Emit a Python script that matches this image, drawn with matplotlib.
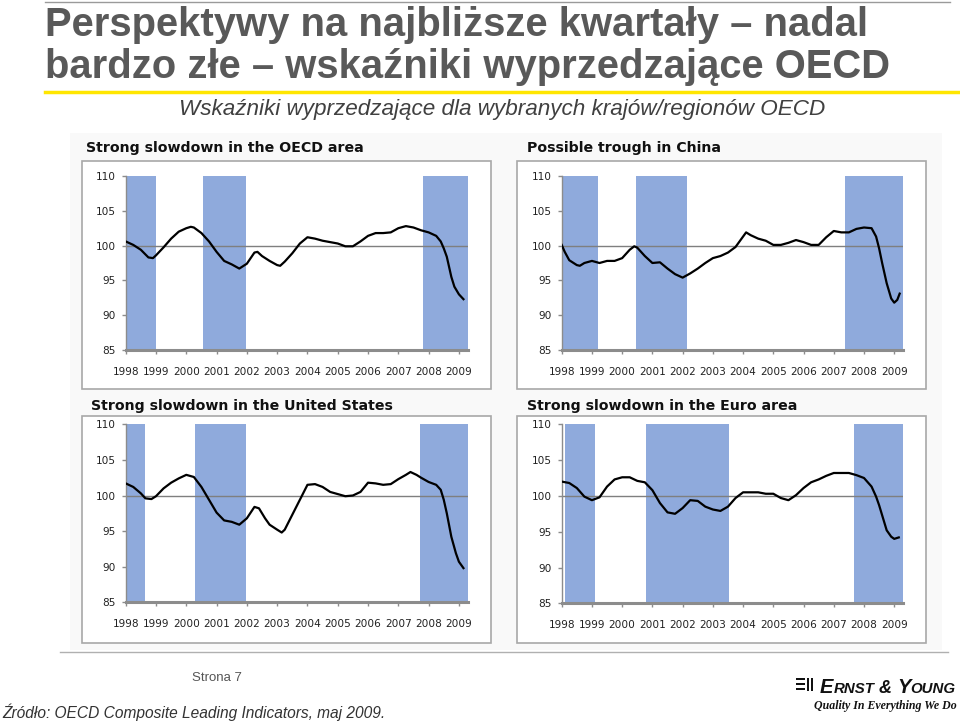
import matplotlib
matplotlib.use("Agg")
import matplotlib.pyplot as plt
from matplotlib.patches import Rectangle
from matplotlib.lines import Line2D

W, H = 960, 724

# ---------------- data ----------------
years = list(range(1998, 2010))
y_ticks = [85, 90, 95, 100, 105, 110]

oecd_t = [1998.0, 1998.25, 1998.5, 1998.75, 1998.9, 1999.0, 1999.25, 1999.5, 1999.75, 2000.0,
          2000.15, 2000.25, 2000.5, 2000.75, 2001.0, 2001.25, 2001.5, 2001.75, 2002.0, 2002.25,
          2002.35, 2002.5, 2002.75, 2003.0, 2003.1, 2003.25, 2003.5, 2003.75, 2004.0, 2004.25,
          2004.5, 2004.75, 2005.0, 2005.25, 2005.5, 2005.75, 2006.0, 2006.25, 2006.5, 2006.75,
          2007.0, 2007.25, 2007.5, 2007.75, 2008.0, 2008.25, 2008.4, 2008.5, 2008.6, 2008.75,
          2008.85, 2009.0, 2009.15]
oecd_v = [100.6, 100.1, 99.4, 98.3, 98.2, 98.6, 99.75, 101.0, 102.0, 102.5,
          102.7, 102.6, 101.8, 100.6, 99.1, 97.8, 97.3, 96.7, 97.4, 99.0,
          99.1, 98.5, 97.8, 97.2, 97.1, 97.7, 98.9, 100.3, 101.2, 101.0,
          100.7, 100.5, 100.3, 99.9, 99.9, 100.6, 101.4, 101.8, 101.8, 101.9,
          102.5, 102.8, 102.6, 102.2, 101.9, 101.4, 100.6, 99.6, 98.4, 95.5,
          94.1, 93.0, 92.3]
oecd_bands = [(1998.0, 1999.0), (2000.56, 2001.97), (2007.81, 2009.3)]

china_t = [1998.0, 1998.1, 1998.25, 1998.5, 1998.6, 1998.75, 1999.0, 1999.25, 1999.5, 1999.75,
           2000.0, 2000.25, 2000.4, 2000.5, 2000.75, 2001.0, 2001.25, 2001.5, 2001.75, 2002.0,
           2002.25, 2002.5, 2002.75, 2003.0, 2003.25, 2003.5, 2003.75, 2004.0, 2004.1, 2004.25,
           2004.5, 2004.75, 2005.0, 2005.25, 2005.5, 2005.75, 2006.0, 2006.25, 2006.5, 2006.75,
           2007.0, 2007.25, 2007.5, 2007.75, 2008.0, 2008.25, 2008.4, 2008.5, 2008.6, 2008.75,
           2008.9, 2009.0, 2009.1, 2009.18]
china_v = [100.1, 99.1, 97.9, 97.2, 97.1, 97.5, 97.8, 97.5, 97.8, 97.8,
           98.2, 99.4, 99.9, 99.7, 98.5, 97.5, 97.6, 96.7, 95.9, 95.4,
           96.0, 96.7, 97.5, 98.2, 98.5, 99.0, 99.8, 101.3, 101.9, 101.5,
           101.0, 100.7, 100.1, 100.1, 100.4, 100.8, 100.5, 100.1, 100.1, 101.2,
           102.1, 101.9, 101.9, 102.4, 102.6, 102.5, 101.3, 99.6, 97.5, 94.6,
           92.4, 91.8, 92.2, 93.1]
china_bands = [(1998.0, 1999.19), (2000.46, 2002.13), (2007.37, 2009.3)]

us_t = [1998.0, 1998.25, 1998.5, 1998.65, 1998.85, 1999.0, 1999.25, 1999.5, 1999.75, 2000.0,
        2000.25, 2000.5, 2000.75, 2001.0, 2001.25, 2001.5, 2001.75, 2002.0, 2002.25, 2002.4,
        2002.6, 2002.75, 2003.0, 2003.15, 2003.25, 2003.5, 2003.75, 2004.0, 2004.25, 2004.5,
        2004.75, 2005.0, 2005.25, 2005.5, 2005.75, 2006.0, 2006.25, 2006.5, 2006.75, 2007.0,
        2007.25, 2007.4, 2007.6, 2007.75, 2008.0, 2008.25, 2008.4, 2008.5, 2008.6, 2008.75,
        2008.9, 2009.0, 2009.15]
us_v = [101.7, 101.2, 100.3, 99.6, 99.5, 99.9, 101.0, 101.8, 102.4, 102.9,
        102.6, 101.2, 99.4, 97.6, 96.5, 96.3, 95.9, 96.8, 98.4, 98.2,
        96.8, 95.9, 95.2, 94.8, 95.2, 97.3, 99.4, 101.5, 101.6, 101.2,
        100.5, 100.2, 99.9, 100.0, 100.5, 101.8, 101.7, 101.5, 101.6, 102.3,
        102.9, 103.3, 102.9, 102.5, 101.9, 101.5, 100.8, 99.4, 97.5, 94.2,
        91.9, 90.7, 89.8]
us_bands = [(1998.0, 1998.63), (2000.29, 2001.97), (2007.7, 2009.3)]

euro_t = [1998.0, 1998.25, 1998.5, 1998.75, 1999.0, 1999.25, 1999.5, 1999.75, 2000.0, 2000.25,
          2000.5, 2000.75, 2001.0, 2001.25, 2001.5, 2001.75, 2002.0, 2002.25, 2002.5, 2002.75,
          2003.0, 2003.25, 2003.5, 2003.75, 2004.0, 2004.25, 2004.5, 2004.75, 2005.0, 2005.25,
          2005.5, 2005.75, 2006.0, 2006.25, 2006.5, 2006.75, 2007.0, 2007.25, 2007.5, 2007.75,
          2008.0, 2008.25, 2008.4, 2008.5, 2008.6, 2008.75, 2008.9, 2009.0, 2009.15]
euro_v = [102.0, 101.8, 101.1, 99.9, 99.4, 99.8, 101.3, 102.3, 102.6, 102.6,
          102.1, 101.9, 100.8, 99.0, 97.7, 97.5, 98.3, 99.4, 99.3, 98.5,
          98.1, 97.9, 98.5, 99.7, 100.5, 100.5, 100.5, 100.3, 100.3, 99.7,
          99.4, 100.1, 101.1, 101.9, 102.3, 102.8, 103.2, 103.2, 103.2, 102.9,
          102.5, 101.3, 99.9, 98.7, 97.3, 95.2, 94.3, 94.0, 94.2]
euro_bands = [(1998.1, 1999.1), (2000.78, 2003.52), (2007.68, 2009.3)]

panel_titles = ["Strong slowdown in the OECD area", "Possible trough in China",
                "Strong slowdown in the United States", "Strong slowdown in the Euro area"]

title_lines = ["Perspektywy na najbliższe kwartały – nadal",
               "bardzo złe – wskaźniki wyprzedzające OECD"]
subtitle = "Wskaźniki wyprzedzające dla wybranych krajów/regionów OECD"
page_label = "Strona 7"
source_text = "Źródło: OECD Composite Leading Indicators, maj 2009."
logo_parts = [("E", 14.5), ("RNST", 10.8), (" & ", 13), ("Y", 14.5), ("OUNG", 10.8)]
logo_tagline = "Quality In Everything We Do"

# ---------------- helpers ----------------
fig = plt.figure(figsize=(W / 100, H / 100), dpi=100)
fig.patch.set_facecolor("white")


def fx(x):
    return x / W


def fy(y):
    return 1 - y / H


def frect(x0, y0, x1, y1, **kw):
    r = Rectangle((fx(x0), fy(y1)), (x1 - x0) / W, (y1 - y0) / H,
                  transform=fig.transFigure, **kw)
    fig.patches.append(r)
    return r


def fline(x0, y0, x1, y1, **kw):
    fig.lines.append(Line2D([fx(x0), fx(x1)], [fy(y0), fy(y1)],
                            transform=fig.transFigure, **kw))


# light screenshot background
frect(70, 133, 942, 650, facecolor="#f9f9f9", edgecolor="none", zorder=0)

# horizontal separator lines
fline(45, 1.5, 950, 1.5, color="#9a9a9a", lw=1.0)
fline(45, 92, 960, 92, color="#ffe600", lw=2.5)
fline(60, 652, 948, 652, color="#b0b0b0", lw=1.0)

# ---------------- panels ----------------
BAND = "#8faadc"
panels = [
    ((82, 161, 491, 389), (125.7, 176, 468, 350), (86, 148), oecd_t, oecd_v, oecd_bands),
    ((517, 161, 926, 389), (561.7, 176, 903.3, 350), (527, 148), china_t, china_v, china_bands),
    ((82, 416, 491, 643), (125.7, 424.3, 468, 602.3), (91, 406), us_t, us_v, us_bands),
    ((517, 416, 926, 643), (561.7, 424.3, 903.3, 603.3), (527, 406), euro_t, euro_v, euro_bands),
]

for i, (box, arect, tpos, t, v, bands) in enumerate(panels):
    frect(box[0], box[1], box[2], box[3], facecolor="white", edgecolor="#a8a8a8",
          lw=1.2, zorder=1)
    fig.text(fx(tpos[0]), fy(tpos[1]), panel_titles[i], ha="left", va="center",
             fontsize=10.2, fontweight="bold", color="#111111", family="DejaVu Sans")
    x0, y0, x1, y1 = arect
    ax = fig.add_axes([fx(x0), fy(y1), (x1 - x0) / W, (y1 - y0) / H], zorder=2)
    ax.set_facecolor("white")
    for (b0, b1) in bands:
        ax.axvspan(b0, b1, color=BAND, lw=0, zorder=1)
    ax.axhline(100, color="#7f7f7f", lw=1.0, zorder=2)
    ax.plot(t, v, color="black", lw=1.6, zorder=3, solid_joinstyle="round")
    ax.set_xlim(1998, 2009.3)
    ax.set_ylim(85, 110)
    ax.set_xticks(years)
    ax.set_xticklabels([str(y) for y in years])
    ax.set_yticks(y_ticks)
    ax.set_yticklabels([str(y) for y in y_ticks])
    for s in ("top", "right"):
        ax.spines[s].set_visible(False)
    ax.spines["left"].set_color("#8c8c8c")
    ax.spines["left"].set_linewidth(1.0)
    ax.spines["bottom"].set_color("#8c8c8c")
    ax.spines["bottom"].set_linewidth(2.2)
    ax.spines["bottom"].set_zorder(4)
    ax.tick_params(axis="x", direction="out", length=3, width=1, color="#8c8c8c",
                   labelsize=7.6, labelcolor="#222222", pad=9)
    ax.tick_params(axis="y", direction="out", length=3, width=1, color="#8c8c8c",
                   labelsize=7.6, labelcolor="#222222", pad=4)
    for lab in ax.get_xticklabels() + ax.get_yticklabels():
        lab.set_family("DejaVu Sans")

# ---------------- titles ----------------
fig.text(fx(45), fy(25), title_lines[0], ha="left", va="center", fontsize=28.8,
         fontweight="bold", color="#595959", family="Liberation Sans")
fig.text(fx(45), fy(67), title_lines[1], ha="left", va="center", fontsize=28.8,
         fontweight="bold", color="#595959", family="Liberation Sans")
fig.text(fx(502), fy(110), subtitle, ha="center", va="center", fontsize=16.2,
         style="italic", color="#404040", family="Liberation Sans")

# ---------------- footer ----------------
fig.text(fx(217), fy(678), page_label, ha="center", va="center", fontsize=9.5,
         color="#555555", family="Liberation Sans")
fig.text(fx(2), fy(712), source_text, ha="left", va="center", fontsize=11.2,
         style="italic", color="#333333", family="Liberation Sans")

# logo icon
lx, ly = 796, 686
for k in range(3):
    frect(lx, ly - 8 + k * 5, lx + 9, ly - 6 + k * 5, facecolor="#111111", edgecolor="none")
frect(lx + 11, ly - 8, lx + 13, ly + 5, facecolor="#111111", edgecolor="none")
frect(lx + 15, ly - 8, lx + 17, ly + 5, facecolor="#111111", edgecolor="none")

# logo word mark (small caps emulation)
renderer = fig.canvas.get_renderer()
cx = 820
for txt, size in logo_parts:
    tt = fig.text(fx(cx), fy(693), txt, ha="left", va="baseline", fontsize=size,
                  fontweight="bold", style="italic", color="#111111",
                  family="Liberation Sans")
    bb = tt.get_window_extent(renderer=renderer)
    cx += bb.width
fig.text(fx(957), fy(706), logo_tagline, ha="right", va="center",
         fontsize=8.6, fontweight="bold", style="italic", color="#111111",
         family="Liberation Serif")

fig.savefig("out.png", dpi=100, facecolor="white")
